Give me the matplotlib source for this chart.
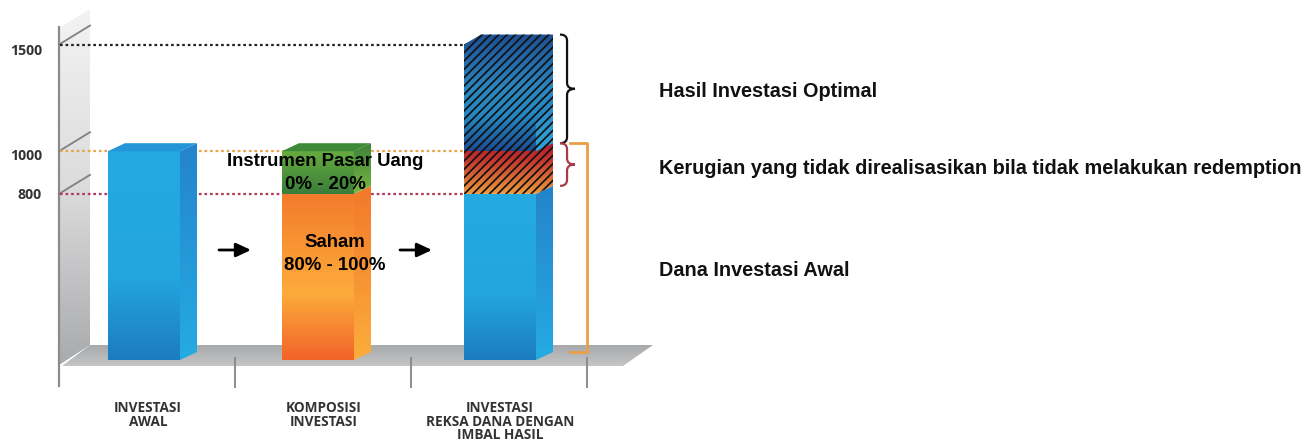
import numpy as np
import matplotlib
matplotlib.use("Agg")
import matplotlib.pyplot as plt
from matplotlib.colors import LinearSegmentedColormap as LSC
from matplotlib.patches import Polygon, PathPatch
from matplotlib.path import Path

# ---------- data ----------
categories = ["INVESTASI\nAWAL", "KOMPOSISI\nINVESTASI", "INVESTASI\nREKSA DANA DENGAN\nIMBAL HASIL"]
y_ticks = [800, 1000, 1500]
y_tick_labels = ["800", "1000", "1500"]
initial_value = [1000]
stock_value = [800]
money_market_value = [200]
fund_base = [800]
fund_loss = [200]
fund_gain = [500]
stock_label = "Saham\n80% - 100%"
money_label = "Instrumen Pasar Uang\n0% - 20%"
legend_labels = ["Hasil Investasi Optimal",
                 "Kerugian yang tidak direalisasikan bila tidak melakukan redemption",
                 "Dana Investasi Awal"]

# ---------- geometry: one full-figure axes, 176 px per category, 0.2133 px per unit ----------
W, H = 1306, 442
PXX, PXY = 176.0, 0.2133
X0, Y0 = 147.0, 364.5
plt.rcParams["hatch.linewidth"] = 1.25
fig = plt.figure(figsize=(W / 100, H / 100), dpi=100)
ax = fig.add_axes([0, 0, 1, 1])
ax.axis("off")
xlim = (-X0 / PXX, (W - X0) / PXX)
ylim = ((Y0 - H) / PXY, Y0 / PXY)
dx = lambda px: px / PXX       # pixel length -> category units
dy = lambda px: px / PXY       # pixel length -> value units
xp = lambda px: (px - X0) / PXX  # pixel column -> x
yp = lambda px: (Y0 - px) / PXY  # pixel row -> y


def grad_poly(pts, stops, z, positions=None):
    """Polygon filled by a vertical gradient; stops run from top to bottom."""
    pts = np.array(pts)
    poly = Polygon(pts, closed=True, fc="none", ec="none", zorder=z)
    ax.add_patch(poly)
    pos = positions if positions else np.linspace(0, 1, len(stops))
    cmap = LSC.from_list("g", list(zip(pos, stops)))
    im = ax.imshow(np.linspace(0, 1, 256)[:, None], cmap=cmap, aspect="auto", origin="upper",
                   extent=(pts[:, 0].min(), pts[:, 0].max(), pts[:, 1].min(), pts[:, 1].max()),
                   zorder=z, interpolation="bilinear")
    im.set_clip_path(poly)
    return poly


def box_parts(x, w, y0, y1):
    ddx, ddy = dx(17), dy(8)
    l, r = x, x + w
    front = [(l, y0), (r, y0), (r, y1), (l, y1)]
    side = [(r, y0), (r + ddx, y0 + ddy), (r + ddx, y1 + ddy), (r, y1)]
    top = [(l, y1), (l + ddx, y1 + ddy), (r + ddx, y1 + ddy), (r, y1)]
    return front, side, top


BW = dx(72)
BASE = yp(360)
offs = [dx(-39), dx(-41), dx(-35)]
lefts = [i + o for i, o in enumerate(offs)]

BLUE_F = ["#24a9e2", "#23a6e0", "#1c7cc0"]
BLUE_P = [0, .6, 1]
BLUE_S = ["#2484cb", "#25abe4"]

# wall and floor
wall = [(xp(59), yp(365)), (xp(90), yp(345)), (xp(90), yp(9)), (xp(59), yp(28))]
grad_poly(wall, ["#f3f3f3", "#dcdcdd", "#a9aaac"], 1)
floor = [(xp(62), yp(366)), (xp(90), yp(345)), (xp(653), yp(345)), (xp(623), yp(366))]
grad_poly(floor, ["#a8a9ab", "#c4c5c6"], 1)
ax.plot([xp(59)] * 2, [yp(27), yp(386)], color="#8a8b8d", lw=1.6, zorder=2)
for k in range(1, 4):
    x = xp(59) + k
    ax.plot([x, x], [yp(358), yp(387)], color="#8a8b8d", lw=1.4, zorder=2)
# diagonal marks on the wall, dotted guides and tick labels
label_nudge = [1, 5, 6]
for v, lab, col, nud in zip(y_ticks, y_tick_labels, ["#b03a55", "#eaa24b", "#222222"], label_nudge):
    ax.plot([xp(59), xp(90)], [v, v + dy(19)], color="#7f8082", lw=1.3, zorder=2)
    ax.plot([xp(60), lefts[2]], [v, v], color=col, lw=1.6, ls=(0, (1.2, 1.3)), zorder=2)
    ax.text(xp(42), v - dy(nud), lab, ha="right", va="center", fontsize=10.2, fontweight="bold",
            family="Open Sans", color="#333333", zorder=8)

# bar 1
f, s, t = box_parts(lefts[0], BW, BASE, initial_value[0])
grad_poly(f, BLUE_F, 3, BLUE_P); grad_poly(s, BLUE_S, 3)
ax.add_patch(Polygon(t, fc="#2296d8", ec="none", zorder=3))

# bar 2
f, s, t = box_parts(lefts[1], BW, BASE, stock_value[0])
grad_poly(f, ["#f47b2c", "#fdab3b", "#f2632a"], 3, [0, .6, 1])
grad_poly(s, ["#f3782b", "#fbad3b"], 3)
f, s, t = box_parts(lefts[1], BW, stock_value[0], stock_value[0] + money_market_value[0])
grad_poly(f, ["#67ab3f", "#3a7d3a"], 3)
grad_poly(s, ["#3e8238", "#7ab843"], 3)
ax.add_patch(Polygon(t, fc="#3f8a39", ec="none", zorder=3))

# bar 3
f, s, t = box_parts(lefts[2], BW, BASE, fund_base[0])
grad_poly(f, BLUE_F, 3, BLUE_P); grad_poly(s, ["#2483c9", "#25abe4"], 3)
v1 = fund_base[0]
v2 = v1 + fund_loss[0]
v3 = v2 + fund_gain[0]
ddx, ddy = dx(17), dy(8)
top_rise = dy(10)
l, r = lefts[2], lefts[2] + BW
red = [(l, v1), (r, v1), (r + ddx, v1 + ddy), (r + ddx, v2 + ddy), (l, v2)]
grad_poly(red, ["#b51f2e", "#c0322c", "#f09a3e"], 4, [0, .3, 1])
ax.add_patch(Polygon(red, fc="none", ec="#111111", hatch="////", lw=0, zorder=5))
blue = [(l, v2), (r, v2), (r + ddx, v2 + ddy), (r + ddx, v3 + top_rise), (l + ddx, v3 + top_rise), (l, v3)]
grad_poly(blue, ["#1d4f92", "#2b86c0", "#2488c2", "#1c4d92"], 4, [0, .45, .7, 1])
sliver = [(r, v2), (r + ddx, v2 + ddy), (r + ddx, v2 + dy(50)), (r, v2 + dy(30))]
grad_poly(sliver, ["#2b86c0", "#2fa6da"], 4)
ax.add_patch(Polygon(blue, fc="none", ec="#111111", hatch="////", lw=0, zorder=5))

# arrows
for c in (xp(235), xp(416)):
    ax.annotate("", xy=(c + dx(16), yp(250)), xytext=(c - dx(16), yp(250)), zorder=6,
                arrowprops=dict(arrowstyle="-|>,head_length=0.9,head_width=0.42", color="black", lw=2,
                                shrinkA=0, shrinkB=0))


# braces
def brace(x, top_v, bot_v, color, w=15):
    xa = x
    xm = x + dx(w * .47)
    xt = x + dx(w)
    mid = (top_v + bot_v) / 2
    c = dy(6)
    verts = [(xa, top_v), (xm, top_v), (xm, top_v - c), (xm, mid + c), (xm, mid), (xt, mid),
             (xm, mid), (xm, mid - c), (xm, bot_v + c), (xm, bot_v), (xa, bot_v)]
    codes = [Path.MOVETO, Path.CURVE3, Path.CURVE3, Path.LINETO, Path.CURVE3, Path.CURVE3,
             Path.CURVE3, Path.CURVE3, Path.LINETO, Path.CURVE3, Path.CURVE3]
    ax.add_patch(PathPatch(Path(verts, codes), fc="none", ec=color, lw=1.6, zorder=6))


xb = xp(560)
brace(xb, v3 + top_rise, v2 + ddy, "#111111")
brace(xb, v2 + ddy, v1 + ddy, "#a83a4a")
ax.plot([xp(570), xp(587), xp(587), xp(570)], [v2 + ddy, v2 + ddy, BASE + ddy, BASE + ddy],
        color="#eb9f45", lw=2, zorder=6)

# texts
for i, lab in enumerate(categories):
    ax.text(i + dx(1), yp(401), lab, ha="center", va="top", fontsize=9.8, fontweight="bold",
            family="Open Sans", color="#333333", linespacing=0.97, zorder=8)
ax.text(xp(325), yp(173), money_label, ha="center", va="center", fontsize=13.4,
        fontweight="bold", family="Liberation Sans", color="black", linespacing=1.4, zorder=8)
ax.text(xp(335), yp(254), stock_label, ha="center", va="center", fontsize=13.4,
        fontweight="bold", family="Liberation Sans", color="black", linespacing=1.4, zorder=8)
for lab, py in zip(legend_labels, (92, 169, 270)):
    ax.text(xp(659), yp(py), lab, ha="left", va="center", fontsize=14.3, fontweight="bold",
            family="Liberation Sans", color="#111111", zorder=8)

ax.set_xlim(*xlim)
ax.set_ylim(*ylim)
fig.savefig("out.png", dpi=100)
